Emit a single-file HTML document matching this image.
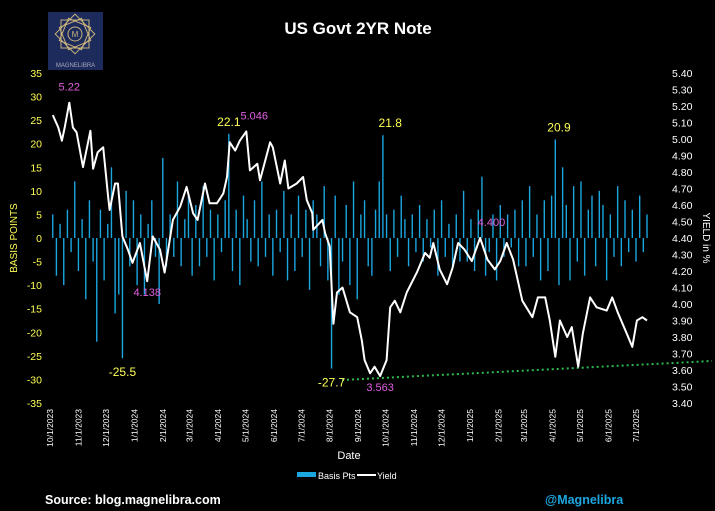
<!DOCTYPE html>
<html><head><meta charset="utf-8"><style>
html,body{margin:0;padding:0;background:#000;}
svg{display:block;font-family:"Liberation Sans",sans-serif;}
</style></head><body>
<svg id="chart" width="715" height="511" viewBox="0 0 715 511" xmlns="http://www.w3.org/2000/svg">
<rect width="715" height="511" fill="#000"/>
<g>
<rect x="48" y="12" width="55" height="58" fill="#1c2a5c"/>
<g fill="none" stroke="#c8b27a" stroke-width="1">
<rect x="61" y="20" width="28" height="28"/>
<rect x="61" y="20" width="28" height="28" transform="rotate(45 75 34)"/>
<rect x="63" y="22" width="24" height="24" transform="rotate(22.5 75 34)"/>
<rect x="63" y="22" width="24" height="24" transform="rotate(67.5 75 34)"/>
<circle cx="75" cy="34" r="7"/>
</g>
<text x="75" y="37" font-size="8" fill="#c8b27a" text-anchor="middle">M</text>
<text x="75.5" y="67" font-size="6" fill="#aab" text-anchor="middle">MAGNELIBRA</text>
</g>
<text x="358" y="34" font-size="17" font-weight="bold" fill="#fff" text-anchor="middle">US Govt 2YR Note</text>
<g id="axes"></g>
<g id="bars"></g>
<line x1="342" y1="380" x2="712" y2="361" stroke="#2dba4e" stroke-width="2" stroke-dasharray="2,3"/>
<path id="yieldLine" fill="none" stroke="#fff" stroke-width="2" stroke-linejoin="round"/>
<g id="annot"></g>
<text transform="translate(17,238) rotate(-90)" font-size="10" fill="#ffff55" text-anchor="middle">BASIS POINTS</text>
<text transform="translate(703,238) rotate(90)" font-size="10" fill="#fff" text-anchor="middle">YIELD in %</text>
<text x="349" y="459" font-size="11" fill="#fff" text-anchor="middle">Date</text>
<g>
<rect x="297" y="472" width="19" height="5" fill="#1ba6e0"/>
<text x="318" y="479" font-size="9" fill="#fff">Basis Pts</text>
<line x1="357" y1="475" x2="376" y2="475" stroke="#fff" stroke-width="2"/>
<text x="377" y="479" font-size="9" fill="#fff">Yield</text>
</g>
<text x="45" y="504" font-size="12.5" font-weight="bold" fill="#fff">Source: blog.magnelibra.com</text>
<text x="545" y="504" font-size="12.5" font-weight="bold" fill="#1ba6e0">@Magnelibra</text>
</svg>
<script>
const leftTicks = [35,30,25,20,15,10,5,0,-5,-10,-15,-20,-25,-30,-35];
const rightTicks = [5.40,5.30,5.20,5.10,5.00,4.90,4.80,4.70,4.60,4.50,4.40,4.30,4.20,4.10,4.00,3.90,3.80,3.70,3.60,3.50,3.40];
const xTickLabels = ["10/1/2023","11/1/2023","12/1/2023","1/1/2024","2/1/2024","3/1/2024","4/1/2024","5/1/2024","6/1/2024","7/1/2024","8/1/2024","9/1/2024","10/1/2024","11/1/2024","12/1/2024","1/1/2025","2/1/2025","3/1/2025","4/1/2025","5/1/2025","6/1/2025","7/1/2025"];
const yieldDays = [3,9,13,16,21,25,29,36,44,47,52,58,63,65,71,74,79,85,90,98,106,112,120,125,134,142,149,156,161,169,174,182,189,193,196,202,207,214,218,226,229,240,243,251,256,260,269,276,280,286,287,297,300,305,309,313,319,327,335,340,343,349,354,360,367,371,376,382,389,400,409,414,418,425,433,439,445,452,460,469,477,485,491,498,505,515,526,532,540,545,551,556,564,569,576,581,589,596,607,613,619,629,635,640,646,651];
const yieldValues = [5.145,5.07,4.99,5.07,5.22,5.07,5.04,4.83,5.05,4.82,4.92,4.95,4.67,4.57,4.73,4.73,4.41,4.33,4.25,4.37,4.138,4.41,4.33,4.19,4.51,4.59,4.71,4.55,4.51,4.73,4.61,4.61,4.67,4.77,4.98,4.93,4.99,5.046,4.81,4.85,4.75,4.98,4.95,4.73,4.87,4.70,4.73,4.77,4.63,4.55,4.45,4.51,4.43,4.35,3.88,4.07,4.10,3.95,3.92,3.78,3.66,3.58,3.62,3.563,3.66,3.98,4.02,3.95,4.07,4.19,4.31,4.28,4.37,4.21,4.12,4.22,4.37,4.33,4.26,4.40,4.27,4.21,4.26,4.37,4.27,4.02,3.92,4.04,4.04,3.90,3.68,3.90,3.80,3.86,3.62,3.82,4.04,3.98,3.96,4.04,3.95,3.82,3.74,3.90,3.92,3.90];
const barStartDay = 3;
const barStepDays = 4;
const bpsValues = [5,-8,3,-10,6,-3,12,-7,4,-13,8,-5,-22,6,-9,3,
15,-16,-12,-25.5,10,-6,8,-10,5,-12,3,8,-4,-14,17,-6,
5,-4,12,-6,4,9,-8,7,-6,11,-4,6,-9,5,-3,8,
22.1,-7,6,-10,9,4,-5,8,-6,12,-4,5,-8,6,-3,10,
-9,5,-7,9,-4,6,-11,8,5,-6,11,-9,-27.7,9,-12,-5,
7,-10,12,-13,5,8,-6,-8,6,12,21.8,5,-7,6,-4,9,
4,-6,5,-3,7,-5,4,-2,6,-8,8,-4,3,-6,5,-5,
10,-5,4,-7,6,13,-8,-3,5,-9,7,-4,5,-2,6,-6,
8,-6,11,-4,5,-9,8,-7,9,20.9,-10,15,7,-9,11,-5,
12,-8,6,9,-6,10,7,-9,5,-4,11,-6,8,-3,6,-5,
9,-3,5];
const bpsAnnotations = [["22.1",195],["-25.5",79],["-27.7",307],["21.8",371],["20.9",555]];
const yieldAnnotations = [["5.22",21],["4.138",106],["5.046",214],["3.563",360],["4.400",477]];

const NS="http://www.w3.org/2000/svg";
const X0=50, X1=636, DAYS_SPAN=639;
const yTop=73, yBot=403;
function xScale(d){return X0+d*(X1-X0)/DAYS_SPAN;}
function yLeft(v){return yTop+(35-v)*(yBot-yTop)/70;}
function yRight(v){return yTop+(5.40-v)*(yBot-yTop)/2.0;}
function mk(tag,attrs,parent,txt){const e=document.createElementNS(NS,tag);for(const k in attrs)e.setAttribute(k,attrs[k]);if(txt!==undefined)e.textContent=txt;parent.appendChild(e);return e;}

const axes=document.getElementById('axes');
leftTicks.forEach(v=>{
  const t=mk('text',{x:42,y:yLeft(v)+4,'font-size':10.5,fill:'#ffff55','text-anchor':'end'},axes,String(v));
  
  
});
rightTicks.forEach(v=>{
  const t=mk('text',{x:672,y:yRight(v)+4,'font-size':10.5,fill:'#fff'},axes,v.toFixed(2));
  
  
});
function monthDay(i){const d0=new Date(2023,9,1);const d=new Date(2023,9+i,1);return Math.round((d-d0)/86400000);}
xTickLabels.forEach((s,i)=>{
  const x=xScale(monthDay(i))+3;
  const t=mk('text',{transform:`translate(${x},409) rotate(-90)`,'font-size':8.5,fill:'#fff','text-anchor':'end'},axes,s);
  
  
});

const bars=document.getElementById('bars');
const y0=yLeft(0);
bpsValues.forEach((v,i)=>{
  const x=xScale(barStartDay+i*barStepDays);
  const y=yLeft(v);
  const r=mk('rect',{x:x-0.7,y:Math.min(y,y0),width:1.4,height:Math.max(0.5,Math.abs(y-y0)),fill:'#1ba6e0'},bars);
  
  
});

let d='';
yieldValues.forEach((v,i)=>{d+=(i?'L':'M')+xScale(yieldDays[i]).toFixed(1)+','+yRight(v).toFixed(1);});
document.getElementById('yieldLine').setAttribute('d',d);

const annot=document.getElementById('annot');
bpsAnnotations.forEach(([lab,day])=>{
  const v=parseFloat(lab);
  const y=v>0?yLeft(v)-8:yLeft(v)+18;
  const t=mk('text',{x:xScale(day),y:y,'font-size':12,fill:'#ffff55','text-anchor':'middle'},annot,lab);
  
  
});
yieldAnnotations.forEach(([lab,day])=>{
  const v=parseFloat(lab);
  const high=(lab!=="4.138"&&lab!=="3.563");
  const y=high?yRight(v)-12:yRight(v)+15;
  const x=xScale(day)+(lab==="5.046"?8:lab==="4.400"?4:0);
  const t=mk('text',{x:x,y:y,'font-size':11,fill:'#e060e0','text-anchor':'middle'},annot,lab);
  
  
});
</script>
</body></html>
